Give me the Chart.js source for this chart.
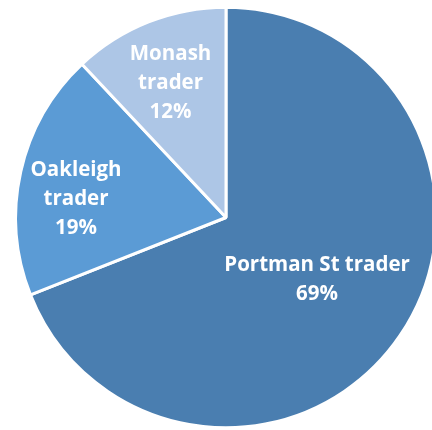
<!DOCTYPE html>
<html>
<head>
<meta charset="utf-8">
<script src="https://cdn.jsdelivr.net/npm/chart.js@4.4.1/dist/chart.umd.min.js"></script>
<style>
  html, body { margin: 0; padding: 0; background: #ffffff; overflow: hidden; }
  #wrap { width: 432px; height: 430px; position: relative; }
  canvas { display: block; }
</style>
</head>
<body>
<div id="wrap"><canvas id="c" width="432" height="430"></canvas></div>
<script>
// ---- data ----
const categories = ['Portman St trader', 'Oakleigh trader', 'Monash trader'];
const shares = [69, 19, 12];

// ---- styling ----
const sliceColors = ['#4A7EB0', '#5B9BD5', '#ADC6E6'];
const labelWrap = [false, true, true];         // break category into words per line
const labelRadiusFrac = [0.521, 0.719, 0.698]; // distance of label block from centre
const labelAngleShift = [-0.4, -5.2, -0.6];    // degrees
const labelFont = 'bold 20.5px "Open Sans", sans-serif';
const lineGap = 29;

const labelPlugin = {
  id: 'sliceLabels',
  afterDatasetsDraw(chart) {
    const ctx = chart.ctx;
    const meta = chart.getDatasetMeta(0);
    const data = chart.data.datasets[0].data;
    const total = data.reduce((a, b) => a + b, 0);
    ctx.save();
    ctx.font = labelFont;
    ctx.fillStyle = '#ffffff';
    ctx.textAlign = 'center';
    ctx.textBaseline = 'alphabetic';
    const capH = 20.5 * 0.714;
    meta.data.forEach((arc, i) => {
      const p = arc.getProps(['x', 'y', 'startAngle', 'endAngle', 'outerRadius'], true);
      const mid = (p.startAngle + p.endAngle) / 2 + labelAngleShift[i] * Math.PI / 180;
      const r = p.outerRadius * labelRadiusFrac[i];
      const cx = p.x + Math.cos(mid) * r;
      const cy = p.y + Math.sin(mid) * r;
      const name = chart.data.labels[i];
      const lines = labelWrap[i] ? name.split(' ') : [name];
      lines.push(Math.round(data[i] / total * 100) + '%');
      const n = lines.length;
      lines.forEach((t, k) => {
        const y = cy + (k - (n - 1) / 2) * lineGap + capH / 2;
        ctx.fillText(t, cx, y);
      });
    });
    ctx.restore();
  }
};

new Chart(document.getElementById('c'), {
  type: 'pie',
  data: {
    labels: categories,
    datasets: [{
      data: shares,
      backgroundColor: sliceColors,
      borderColor: '#ffffff',
      borderWidth: 3,
      clip: false
    }]
  },
  options: {
    responsive: false,
    animation: false,
    rotation: 0,
    radius: 210.3,
    layout: { padding: { left: 20, right: 0, top: 5, bottom: 0 } },
    plugins: {
      legend: { display: false },
      tooltip: { enabled: false }
    },
    events: []
  },
  plugins: [labelPlugin]
});
</script>
</body>
</html>
